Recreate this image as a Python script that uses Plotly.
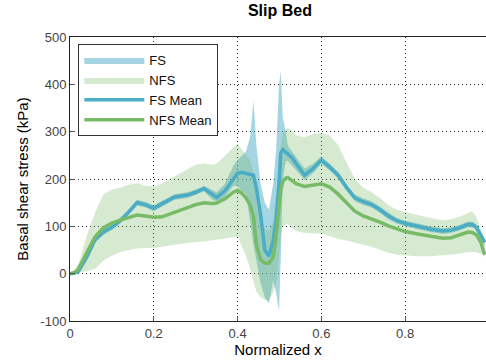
import plotly.graph_objects as go

x = [0, 0.01, 0.02, 0.04, 0.06, 0.08, 0.10, 0.12, 0.14, 0.16, 0.18, 0.20, 0.22, 0.25, 0.28, 0.30,
     0.32, 0.34, 0.35, 0.37, 0.39, 0.40, 0.41, 0.42, 0.43, 0.438, 0.445, 0.455, 0.465, 0.475, 0.485,
     0.492, 0.499, 0.503, 0.508, 0.515, 0.52, 0.53, 0.54, 0.56, 0.58, 0.60, 0.62, 0.64, 0.66, 0.68,
     0.70, 0.72, 0.74, 0.76, 0.78, 0.80, 0.83, 0.86, 0.89, 0.91, 0.93, 0.95, 0.96, 0.97, 0.98, 0.99]

fs_mean = [0, 1, 5, 35, 72, 88, 98, 112, 130, 150, 146, 138, 148, 162, 166, 172,
           180, 166, 161, 175, 200, 212, 214, 212, 210, 208, 180, 125, 50, 37, 70,
           115, 190, 255, 262, 256, 252, 245, 232, 208, 222, 240, 225, 208, 182, 160,
           152, 146, 135, 122, 112, 106, 100, 94, 90, 92, 97, 104, 104, 98, 82, 66]

fs_hi = [2, 4, 10, 41, 78, 94, 104, 118, 136, 156, 152, 144, 154, 168, 172, 178,
         186, 176, 172, 190, 228, 240, 248, 258, 289, 365, 270, 190, 150, 135, 190,
         260, 400, 428, 330, 300, 270, 258, 248, 222, 232, 248, 232, 215, 189, 167,
         159, 153, 142, 129, 118, 112, 106, 100, 96, 98, 103, 110, 110, 104, 88, 72]

fs_lo = [-2, -2, 0, 29, 66, 82, 92, 106, 124, 144, 140, 132, 142, 156, 160, 166,
         174, 156, 152, 162, 185, 185, 175, 168, 110, 60, 25, -20, -50, -63, -15,
         -40, -80, 30, 200, 238, 238, 228, 218, 198, 212, 232, 218, 201, 175, 153,
         145, 139, 128, 115, 106, 100, 94, 88, 84, 86, 91, 98, 98, 92, 76, 60]

nfs_mean = [0, 2, 10, 45, 78, 97, 107, 113, 119, 124, 122, 119, 120, 130, 140, 146,
            150, 148, 149, 158, 172, 176, 170, 160, 145, 120, 60, 30, 22, 22, 35,
            80, 140, 175, 195, 202, 203, 196, 190, 184, 187, 190, 183, 168, 150, 132,
            122, 116, 109, 101, 95, 89, 84, 79, 75, 76, 82, 88, 87, 82, 68, 40]

nfs_hi = [2, 5, 20, 80, 130, 168, 178, 182, 188, 191, 186, 184, 191, 205, 220, 230,
          233, 230, 232, 250, 268, 275, 262, 250, 240, 210, 170, 120, 95, 90, 110,
          170, 240, 270, 295, 305, 308, 302, 292, 288, 295, 297, 292, 272, 235, 200,
          182, 172, 160, 145, 135, 130, 124, 118, 113, 115, 120, 128, 132, 120, 95, 72]

nfs_lo = [-2, -1, 2, 5, 10, 28, 38, 46, 50, 53, 54, 54, 57, 61, 64, 67,
          68, 70, 71, 74, 77, 78, 60, 38, 10, -15, -38, -50, -55, -56, -40,
          -20, 40, 80, 98, 104, 105, 96, 90, 86, 85, 85, 80, 74, 70, 66,
          61, 57, 50, 44, 40, 38, 37, 37, 39, 40, 42, 45, 46, 45, 42, 36]

y_ticks = [-100, 0, 100, 200, 300, 400, 500]
y_tick_text = ["-100", "0", "100", "200", "300", "400", "500"]
x_ticks = [0, 0.2, 0.4, 0.6, 0.8]
x_tick_text = ["0", "0.2", "0.4", "0.6", "0.8"]

TEAL = "#4BACC6"
GREEN = "#77BB66"
FONT = "Liberation Sans, Arial"

fig = go.Figure()
fig.add_trace(go.Scatter(
    x=x + x[::-1], y=fs_hi + fs_lo[::-1], fill="toself", mode="lines",
    line=dict(width=0, color=TEAL), fillcolor="rgba(75,172,198,0.5)", name="FS",
    hoverinfo="skip"))
fig.add_trace(go.Scatter(
    x=x + x[::-1], y=nfs_hi + nfs_lo[::-1], fill="toself", mode="lines",
    line=dict(width=0, color=GREEN), fillcolor="rgba(119,187,102,0.3)", name="NFS",
    hoverinfo="skip"))
fig.add_trace(go.Scatter(x=x, y=fs_mean, mode="lines", line=dict(color=TEAL, width=3.5),
                         name="FS Mean"))
fig.add_trace(go.Scatter(x=x, y=nfs_mean, mode="lines", line=dict(color=GREEN, width=3.5),
                         name="NFS Mean"))

axis_common = dict(
    showgrid=True, gridcolor="#222222", griddash="1px,3px", gridwidth=1,
    showline=True, linecolor="#222222", linewidth=1, mirror=True,
    ticks="inside", ticklen=5, tickcolor="#555555", zeroline=False, automargin=False,
    tickfont=dict(family=FONT, size=13, color="#444444"),
)

fig.update_layout(
    width=486, height=364,
    margin=dict(l=70, r=0, t=37, b=43),
    paper_bgcolor="white", plot_bgcolor="white",
    title=dict(text="<b>Slip Bed</b>", x=0.576, xanchor="center", y=0.988, yanchor="top",
               font=dict(family=FONT, size=16, color="black")),
    xaxis=dict(range=[0, 0.993], tickvals=x_ticks, ticktext=x_tick_text,
               title=dict(text="Normalized x", standoff=4,
                          font=dict(family=FONT, size=15, color="black")),
               **axis_common),
    yaxis=dict(range=[-100, 500], tickvals=y_ticks, ticktext=y_tick_text,
               title=dict(text="Basal shear stress (kPa)", standoff=8,
                          font=dict(family=FONT, size=15, color="black")),
               **axis_common),
    legend=dict(x=0.02, y=0.975, xanchor="left", yanchor="top",
                bgcolor="white", bordercolor="#333333", borderwidth=1,
                font=dict(family=FONT, size=13, color="#111111"),
                tracegroupgap=0, itemwidth=60),
    showlegend=True,
)

fig.write_html("out.html", config={"displayModeBar": False},
               post_script="document.body.style.margin='0';")
